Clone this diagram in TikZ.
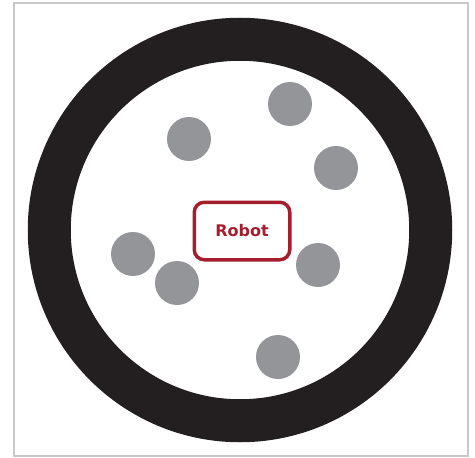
\documentclass[tikz,border=0pt]{standalone}
\usepackage{fontspec}
\setsansfont{DejaVu Sans}
\definecolor{ringblack}{HTML}{231F20}
\definecolor{obstaclegray}{HTML}{939598}
\definecolor{robotred}{HTML}{A51E2E}
\definecolor{framegray}{HTML}{C8C8C8}
\begin{document}
\begin{tikzpicture}[
x=1pt, y=-1pt,
obstacle/.style={circle, fill=obstaclegray, minimum size=44pt, inner sep=0pt},
robot/.style={draw=robotred, line width=3.5pt, rounded corners=10pt, minimum width=95.5pt, minimum height=57.5pt,
  text=robotred, font=\sffamily\bfseries\fontsize{16}{19}\selectfont}
]
\useasboundingbox (0,0) rectangle (475,458);
\draw[framegray, line width=1.2pt] (14,3) rectangle (468,456);
% arena wall
\draw[ringblack, line width=43pt] (240,230) circle (190.75pt);
% robot and obstacles
\node[robot] (robot) at (242,231) {Robot};
\node[obstacle] (obstacle1) at (189,139) {};
\node[obstacle] (obstacle2) at (290,104) {};
\node[obstacle] (obstacle3) at (336,168) {};
\node[obstacle] (obstacle4) at (133,254) {};
\node[obstacle] (obstacle5) at (177,283) {};
\node[obstacle] (obstacle6) at (318,265) {};
\node[obstacle] (obstacle7) at (278,357) {};
\end{tikzpicture}
\end{document}
